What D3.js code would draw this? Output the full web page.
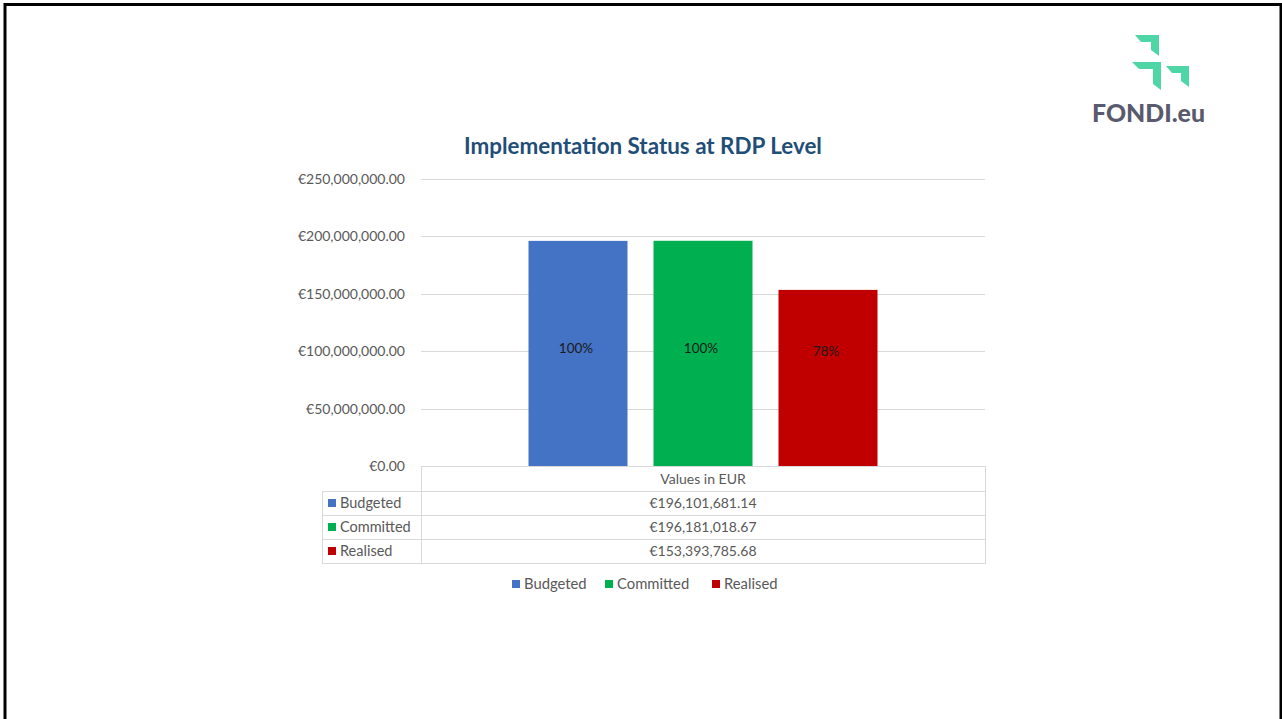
<!DOCTYPE html>
<html>
<head>
<meta charset="utf-8">
<script src="https://cdn.jsdelivr.net/npm/d3@7"></script>
<style>
  body { margin: 0; background: #fff; }
  svg text { font-family: Lato, "Liberation Sans", sans-serif; }
</style>
</head>
<body>
<div id="chart"></div>
<script>
// Chart data
const category = "Values in EUR";
const series = ["Budgeted", "Committed", "Realised"];
const values = [196101681.14, 196181018.67, 153393785.68];
const pctLabels = ["100%", "100%", "78%"];
const colors = ["#4472c4", "#00b050", "#c00000"];
const yTicks = [0, 50000000, 100000000, 150000000, 200000000, 250000000];

const width = 1282;
const height = 719;

const svg = d3.select("#chart").append("svg")
    .attr("width", width)
    .attr("height", height);

// page frame
svg.append("rect")
    .attr("x", 5).attr("y", 4.5)
    .attr("width", 1276).attr("height", 730)
    .attr("fill", "none")
    .attr("stroke", "#000")
    .attr("stroke-width", 3);

// Plot area
const plot = { left: 421, right: 985, top: 179, bottom: 466 };

const y = d3.scaleLinear()
    .domain([0, 250000000])
    .range([plot.bottom, plot.top]);

const x0 = d3.scaleBand()
    .domain([category])
    .range([plot.left, plot.right]);

const x1 = d3.scaleBand()
    .domain(series)
    .range([107.5, x0.bandwidth() - 107.5])
    .paddingInner(0.208);

const eur = d3.format(",.2f");

// Title
svg.append("text")
    .attr("x", 643).attr("y", 154)
    .attr("text-anchor", "middle")
    .attr("font-size", 22.4)
    .attr("font-weight", "bold")
    .attr("fill", "#1f4e79")
    .text("Implementation Status at RDP Level");

// Gridlines
svg.append("g")
    .selectAll("line")
    .data(yTicks.filter(d => d > 0))
    .join("line")
    .attr("x1", plot.left).attr("x2", plot.right)
    .attr("y1", d => Math.round(y(d)) + 0.5)
    .attr("y2", d => Math.round(y(d)) + 0.5)
    .attr("stroke", "#d9d9d9");

// Y axis labels
svg.append("g")
    .selectAll("text")
    .data(yTicks)
    .join("text")
    .attr("x", 405)
    .attr("y", d => y(d) + 5)
    .attr("text-anchor", "end")
    .attr("font-size", 14)
    .attr("fill", "#595959")
    .text(d => "€" + eur(d));

// Bars
const g = svg.append("g")
    .attr("transform", `translate(${x0(category)},0)`);

g.selectAll("rect")
    .data(series)
    .join("rect")
    .attr("x", d => x1(d))
    .attr("y", (d, i) => y(values[i]))
    .attr("width", x1.bandwidth())
    .attr("height", (d, i) => y(0) - y(values[i]))
    .attr("fill", (d, i) => colors[i]);

g.selectAll("text.lbl")
    .data(series)
    .join("text")
    .attr("class", "lbl")
    .attr("x", d => x1(d) + x1.bandwidth() / 2 - 2)
    .attr("y", (d, i) => y(103000000) + 5 + (i === 2 ? 3 : 0))
    .attr("text-anchor", "middle")
    .attr("font-size", 13.5)
    .attr("fill", "#1a1a1a")
    .text((d, i) => pctLabels[i]);

// Data table
const rowH = 24;
const tableTop = plot.bottom;
const leftCol = 322;
const grid = svg.append("g")
    .attr("stroke", "#d9d9d9")
    .attr("fill", "none");

// header cell
grid.append("rect")
    .attr("x", plot.left + 0.5).attr("y", tableTop + 0.5)
    .attr("width", plot.right - plot.left).attr("height", 25);
// body rows
series.forEach((s, i) => {
  const ry = tableTop + 25 + i * rowH;
  grid.append("rect")
      .attr("x", leftCol + 0.5).attr("y", ry + 0.5)
      .attr("width", plot.left - leftCol).attr("height", rowH);
  grid.append("rect")
      .attr("x", plot.left + 0.5).attr("y", ry + 0.5)
      .attr("width", plot.right - plot.left).attr("height", rowH);
});

svg.append("text")
    .attr("x", (plot.left + plot.right) / 2)
    .attr("y", tableTop + 18)
    .attr("text-anchor", "middle")
    .attr("font-size", 14)
    .attr("fill", "#595959")
    .text(category);

const rows = svg.append("g")
    .selectAll("g")
    .data(series)
    .join("g")
    .attr("transform", (d, i) => `translate(0,${tableTop + 25 + i * rowH})`);

rows.append("rect")
    .attr("x", 328).attr("y", 8)
    .attr("width", 8).attr("height", 8)
    .attr("fill", (d, i) => colors[i]);

rows.append("text")
    .attr("x", 340).attr("y", 17)
    .attr("font-size", 14.5)
    .attr("fill", "#595959")
    .text(d => d);

rows.append("text")
    .attr("x", (plot.left + plot.right) / 2)
    .attr("y", 17)
    .attr("text-anchor", "middle")
    .attr("font-size", 14)
    .attr("fill", "#595959")
    .text((d, i) => "€" + eur(values[i]));

// Legend
const legendX = [512, 605, 712];
const legend = svg.append("g")
    .selectAll("g")
    .data(series)
    .join("g")
    .attr("transform", (d, i) => `translate(${legendX[i]},580)`);

legend.append("rect")
    .attr("width", 8).attr("height", 8)
    .attr("fill", (d, i) => colors[i]);

legend.append("text")
    .attr("x", 12).attr("y", 9)
    .attr("font-size", 14.8)
    .attr("fill", "#595959")
    .text(d => d);

// FONDI.eu logo
const logo = svg.append("g").attr("fill", "#4fd6a6");
const arrows = [
  [[1135, 35], [1159, 35], [1159, 56], [1151, 50], [1151, 42], [1141, 42]],
  [[1132, 62], [1161, 62], [1161, 90], [1153, 84], [1153, 69], [1139, 69]],
  [[1166, 66], [1189, 66], [1189, 87], [1181, 81], [1181, 73], [1172, 73]]
];
logo.selectAll("path")
    .data(arrows)
    .join("path")
    .attr("d", d => d3.line()(d) + "Z");

svg.append("text")
    .attr("x", 1092).attr("y", 122)
    .attr("font-size", 24)
    .attr("font-weight", 900)
    .attr("fill", "#5a5a6e")
    .attr("textLength", 113)
    .attr("lengthAdjust", "spacingAndGlyphs")
    .text("FONDI.eu");
</script>
</body>
</html>
